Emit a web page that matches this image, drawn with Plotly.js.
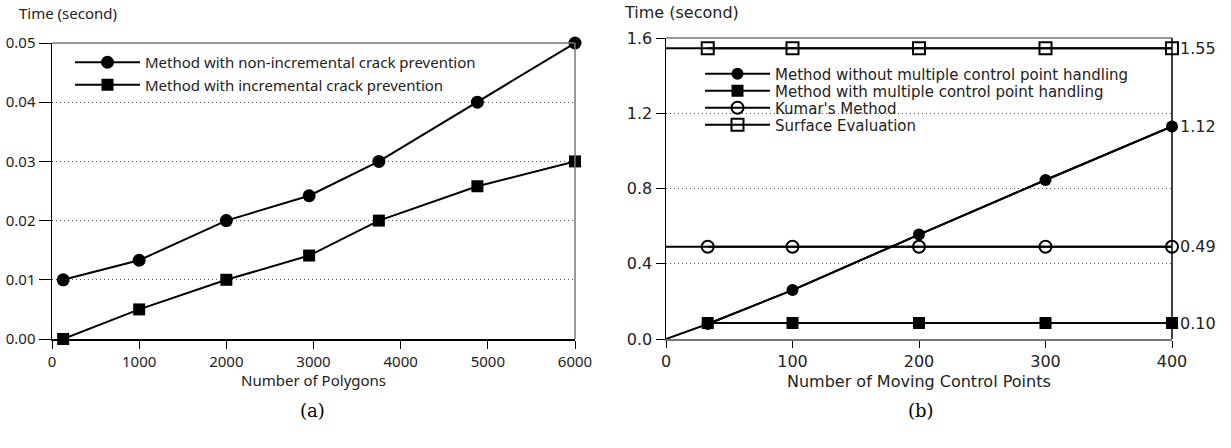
<!DOCTYPE html>
<html>
<head>
<meta charset="utf-8">
<script src="https://cdn.plot.ly/plotly-3.0.1.min.js"></script>
<style>
html,body{margin:0;padding:0;background:#fff;}
#chart{width:1231px;height:448px;}
</style>
</head>
<body>
<div id="chart"></div>
<script>
// ---- Chart (a) data ----
const polygonCounts = [128, 1000, 2000, 2950, 3750, 4880, 6000];
const nonIncrementalTime = [0.010, 0.0133, 0.020, 0.0242, 0.030, 0.040, 0.050];
const incrementalTime = [0.000, 0.005, 0.010, 0.0141, 0.020, 0.0258, 0.030];
const polygonTicks = [0, 1000, 2000, 3000, 4000, 5000, 6000];
const timeTicksA = [0, 0.01, 0.02, 0.03, 0.04, 0.05];

// ---- Chart (b) data ----
const controlPoints = [0, 33, 100, 200, 300, 400];
const withoutHandling = [0, 0.08, 0.26, 0.555, 0.845, 1.13];
const withHandling = [0.085, 0.085, 0.085, 0.085, 0.085, 0.085];
const kumarTime = [0.49, 0.49, 0.49, 0.49, 0.49, 0.49];
const surfaceTime = [1.545, 1.545, 1.545, 1.545, 1.545, 1.545];
const controlTicks = [0, 100, 200, 300, 400];
const timeTicksB = [0, 0.4, 0.8, 1.2, 1.6];
const endLabels = ['1.12', '0.10', '0.49', '1.55'];

const fA = {family: 'Noto Sans, Open Sans, sans-serif', size: 15, color: '#222'};
const fB = {family: 'DejaVu Sans, sans-serif', size: 16, color: '#222'};
const fLeg = {family: 'DejaVu Sans, sans-serif', size: 15, color: '#222'};
const fCap = {family: 'DejaVu Serif, Liberation Serif, serif', size: 18, color: '#000'};
const black = '#000';

function lineOnly(y) {
  // connecting line that starts at the axis (x = 0), drawn without markers
  return {x: controlPoints, y: y, mode: 'lines', line: {color: black, width: 2},
    xaxis: 'x2', yaxis: 'y2', showlegend: false, hoverinfo: 'skip'};
}
function measured(y, name, marker, legendId) {
  return {x: controlPoints.slice(1), y: y.slice(1), name: name, mode: 'lines+markers',
    line: {color: black, width: 2}, marker: marker, xaxis: 'x2', yaxis: 'y2',
    legend: legendId, cliponaxis: false};
}

const traces = [
  {x: polygonCounts, y: nonIncrementalTime, name: 'Method with non-incremental crack prevention',
   mode: 'lines+markers', line: {color: black, width: 2}, marker: {symbol: 'circle', size: 13, color: black},
   xaxis: 'x', yaxis: 'y', legend: 'legend', cliponaxis: false},
  {x: polygonCounts, y: incrementalTime, name: 'Method with incremental crack prevention',
   mode: 'lines+markers', line: {color: black, width: 2}, marker: {symbol: 'square', size: 12, color: black},
   xaxis: 'x', yaxis: 'y', legend: 'legend', cliponaxis: false},

  lineOnly(withoutHandling),
  lineOnly(kumarTime),
  lineOnly(surfaceTime),
  measured(withoutHandling, 'Method without multiple control point handling',
    {symbol: 'circle', size: 12, color: black}, 'legend2'),
  measured(withHandling, 'Method with multiple control point handling',
    {symbol: 'square', size: 12, color: black}, 'legend3'),
  measured(kumarTime, "Kumar's Method",
    {symbol: 'circle-open', size: 12, color: black, line: {width: 2, color: black}}, 'legend4'),
  measured(surfaceTime, 'Surface Evaluation',
    {symbol: 'square-open', size: 12, color: black, line: {width: 2, color: black}}, 'legend5')
];

const endSeries = [withoutHandling, withHandling, kumarTime, surfaceTime];
const endAnnotations = endSeries.map((s, i) => ({
  xref: 'x2', yref: 'y2', x: controlPoints[controlPoints.length - 1], y: s[s.length - 1],
  text: endLabels[i], showarrow: false, xanchor: 'left', yanchor: 'middle', xshift: 6, font: fB
}));

const dotGrid = '1px,3px';
const W = 1231, H = 448;
const px = v => v / W;
const py = v => (H - v) / H;
const dA = [px(52), px(575)];
const dB = [px(666), px(1172)];
const yDA = [py(339), py(43)];
const yDB = [py(339), py(38)];

function legendAt(xPx, yPx, font) {
  return {x: px(xPx), y: py(yPx), xanchor: 'left', yanchor: 'middle', bgcolor: 'rgba(0,0,0,0)',
    font: font, itemwidth: 65, tracegroupgap: 0, borderwidth: 0};
}

const layout = {
  width: W, height: H,
  margin: {l: 0, r: 0, t: 0, b: 0},
  paper_bgcolor: '#fff', plot_bgcolor: 'rgba(0,0,0,0)',
  showlegend: true,
  xaxis: {domain: dA, range: [0, 6000], anchor: 'y', tickvals: polygonTicks,
    ticks: 'outside', ticklen: 8, tickcolor: black, tickwidth: 1,
    showline: true, linecolor: black, linewidth: 1.5, showgrid: false, zeroline: false, tickfont: fA},
  yaxis: {domain: yDA, range: [0, 0.05], anchor: 'x', tickvals: timeTicksA, tickformat: '.2f',
    ticks: 'outside', ticklen: 12, tickcolor: black, tickwidth: 1,
    showline: true, linecolor: black, linewidth: 1.5, showgrid: true, griddash: dotGrid, gridcolor: '#555',
    zeroline: false, tickfont: fA},
  xaxis3: {domain: dA, range: [0, 6000], anchor: 'y', overlaying: 'x', tickvals: polygonTicks,
    ticks: 'inside', ticklen: 9, tickcolor: black, showticklabels: false, showline: false, showgrid: false, zeroline: false},
  yaxis3: {domain: yDA, range: [0, 0.05], anchor: 'x', overlaying: 'y', tickvals: timeTicksA,
    ticks: 'inside', ticklen: 11, tickcolor: black, showticklabels: false, showline: false, showgrid: false, zeroline: false},

  xaxis2: {domain: dB, range: [0, 400], anchor: 'y2', tickvals: controlTicks,
    ticks: 'outside', ticklen: 7, tickcolor: black, tickwidth: 1,
    showline: true, linecolor: '#777', linewidth: 1.5, showgrid: false, zeroline: false, tickfont: fB},
  yaxis2: {domain: yDB, range: [0, 1.6], anchor: 'x2', tickvals: timeTicksB, tickformat: '.1f',
    ticks: 'outside', ticklen: 9, tickcolor: black, tickwidth: 1,
    showline: true, linecolor: black, linewidth: 1.5, showgrid: true, griddash: dotGrid, gridcolor: '#555',
    zeroline: false, tickfont: fB},
  xaxis4: {domain: dB, range: [0, 400], anchor: 'y2', overlaying: 'x2', tickvals: controlTicks,
    ticks: 'inside', ticklen: 16, tickcolor: black, showticklabels: false, showline: false, showgrid: false, zeroline: false},
  yaxis4: {domain: yDB, range: [0, 1.6], anchor: 'x2', overlaying: 'y2', tickvals: timeTicksB,
    ticks: 'inside', ticklen: 9, tickcolor: black, showticklabels: false, showline: false, showgrid: false, zeroline: false},

  legend: {x: px(70), y: py(46), xanchor: 'left', yanchor: 'top', bgcolor: 'rgba(0,0,0,0)',
    font: fA, itemwidth: 65, tracegroupgap: 0, borderwidth: 0},
  legend2: legendAt(700, 74, fLeg),
  legend3: legendAt(700, 91, fLeg),
  legend4: legendAt(700, 108, fLeg),
  legend5: legendAt(700, 125, fLeg),

  shapes: [
    {type: 'line', xref: 'x domain', yref: 'y domain', x0: 0, x1: 1, y0: 1, y1: 1, line: {color: '#777', width: 1.5}},
    {type: 'line', xref: 'x domain', yref: 'y domain', x0: 1, x1: 1, y0: 0, y1: 1, line: {color: '#777', width: 1.5}},
    {type: 'line', xref: 'x2 domain', yref: 'y2 domain', x0: 0, x1: 1, y0: 1, y1: 1, line: {color: '#777', width: 1.5}},
    {type: 'line', xref: 'x2 domain', yref: 'y2 domain', x0: 1, x1: 1, y0: 0, y1: 1, line: {color: black, width: 1.5}},
    // legend backing behind "Kumar's Method" entry (hides the dotted grid there)
    {type: 'rect', layer: 'below', xref: 'paper', yref: 'paper', x0: px(683), x1: px(912), y0: py(117), y1: py(100),
     fillcolor: '#fff', line: {width: 0}}
  ],
  annotations: [
    {xref: 'paper', yref: 'paper', x: px(17), y: py(13), xanchor: 'left', yanchor: 'middle',
     text: 'Time (second)', showarrow: false, font: fA},
    {xref: 'paper', yref: 'paper', x: px(622), y: py(13), xanchor: 'left', yanchor: 'middle',
     text: 'Time (second)', showarrow: false, font: fB},
    {xref: 'x domain', yref: 'paper', x: 0.5, y: py(380), xanchor: 'center', yanchor: 'middle',
     text: 'Number of Polygons', showarrow: false, font: fA},
    {xref: 'x2 domain', yref: 'paper', x: 0.5, y: py(381), xanchor: 'center', yanchor: 'middle',
     text: 'Number of Moving Control Points', showarrow: false, font: fB},
    {xref: 'paper', yref: 'paper', x: px(312), y: py(410), xanchor: 'center', yanchor: 'middle',
     text: '(a)', showarrow: false, font: fCap},
    {xref: 'paper', yref: 'paper', x: px(921), y: py(410), xanchor: 'center', yanchor: 'middle',
     text: '(b)', showarrow: false, font: fCap}
  ].concat(endAnnotations)
};

Plotly.newPlot('chart', traces, layout, {displayModeBar: false, staticPlot: true});
</script>
</body>
</html>
